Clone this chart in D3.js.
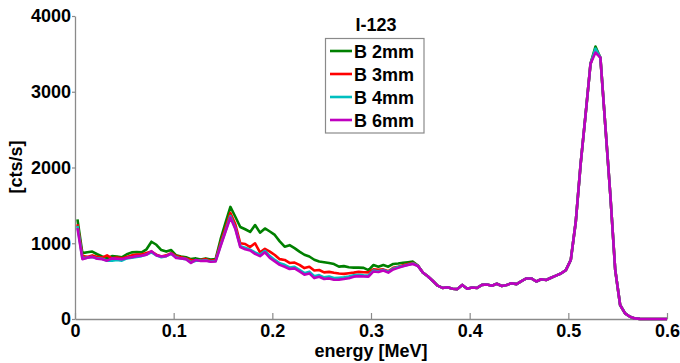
<!DOCTYPE html>
<html><head><meta charset="utf-8">
<script src="https://cdn.jsdelivr.net/npm/d3@7"></script>
<style>
body{margin:0;background:#fff}
svg{display:block}
text{font-family:"Liberation Sans",Arial,sans-serif;font-weight:bold;fill:#000}
</style>
</head><body>
<svg id="chart" width="680" height="363"></svg>
<script>
// ---- data ----
const energy = [
0.0025,0.0075,0.0125,0.0175,0.0225,0.0275,0.0325,0.0375,0.0425,0.0475,
0.0525,0.0575,0.0625,0.0675,0.0725,0.0775,0.0825,0.0875,0.0925,0.0975,
0.1025,0.1075,0.1125,0.1175,0.1225,0.1275,0.1325,0.1375,0.1425,0.1475,
0.1525,0.1575,0.1625,0.1675,0.1725,0.1775,0.1825,0.1875,0.1925,0.1975,
0.2025,0.2075,0.2125,0.2175,0.2225,0.2275,0.2325,0.2375,0.2425,0.2475,
0.2525,0.2575,0.2625,0.2675,0.2725,0.2775,0.2825,0.2875,0.2925,0.2975,
0.3025,0.3075,0.3125,0.3175,0.3225,0.3275,0.3325,0.3375,0.3425,0.3475,
0.3525,0.3575,0.3625,0.3675,0.3725,0.3775,0.3825,0.3875,0.3925,0.3975,
0.4025,0.4075,0.4125,0.4175,0.4225,0.4275,0.4325,0.4375,0.4425,0.4475,
0.4525,0.4575,0.4625,0.4675,0.4725,0.4775,0.4825,0.4875,0.4925,0.4975,
0.5025,0.5075,0.5125,0.5175,0.5225,0.5275,0.5325,0.5375,0.5425,0.5475,
0.5525,0.5575,0.5625,0.5675,0.5725,0.5775,0.5825,0.5875,0.5925,0.5975,0.6];

const b2mm = [
1315,870,880,890,855,825,800,830,825,815,
855,880,885,880,920,1020,980,910,890,910,
840,825,815,790,800,785,800,785,790,1050,
1270,1480,1350,1215,1185,1150,1240,1140,1195,1155,
1110,1025,955,975,935,890,848,825,782,758,
750,740,725,692,698,683,678,678,675,645,
713,691,713,691,727,733,742,750,757,705,
615,565,505,440,410,420,400,395,450,400,
415,410,450,455,440,465,435,450,471,460,
500,535,535,495,525,515,545,572,600,645,
780,1280,2050,2700,3370,3597,3450,2550,1650,650,
185,75,30,8,2,0,0,0,0,0,0];

const b3mm = [
1250,830,820,840,820,810,840,800,810,800,
820,840,850,850,870,890,850,825,840,870,
830,815,800,780,770,780,790,770,780,1000,
1200,1400,1250,1000,990,950,1000,880,925,890,
845,790,780,740,745,715,672,690,640,647,
615,622,610,600,596,605,612,622,618,615,
655,648,655,630,675,690,710,725,740,705,
615,565,505,440,410,420,400,395,450,400,
415,410,450,455,440,465,435,450,471,460,
500,535,535,495,525,515,545,572,600,645,
780,1280,2050,2700,3370,3560,3450,2550,1650,650,
185,75,30,8,2,0,0,0,0,0,0];

const b4mm = [
1230,800,810,820,800,795,770,770,780,770,
800,810,820,830,850,880,840,815,830,860,
815,800,790,750,770,770,775,760,765,970,
1160,1360,1200,960,940,915,880,850,900,830,
780,735,715,680,690,650,605,625,565,580,
550,560,540,545,550,560,578,585,578,575,
640,630,648,622,665,685,700,715,732,703,
615,565,505,440,410,420,400,395,450,400,
415,410,450,455,440,465,435,450,471,460,
500,535,535,495,525,515,545,572,600,645,
780,1280,2050,2700,3370,3570,3450,2550,1650,650,
185,75,30,8,2,0,0,0,0,0,0];

const b6mm = [
1200,790,810,820,795,790,770,800,795,790,
805,815,830,835,850,895,840,825,830,865,
805,800,790,740,780,765,770,755,760,960,
1150,1340,1190,950,920,905,860,830,880,805,
760,715,690,660,668,628,585,602,540,558,
528,536,518,520,528,538,559,566,562,560,
628,620,640,612,655,675,695,712,727,700,
615,565,505,440,410,420,400,395,450,400,
415,410,450,455,440,465,435,450,471,460,
500,535,535,495,525,515,545,572,600,645,
780,1280,2050,2700,3370,3518,3450,2550,1650,650,
185,75,30,8,2,0,0,0,0,0,0];

const seriesNames = ["B 2mm","B 3mm","B 4mm","B 6mm"];
const seriesColors = ["#008000","#ff0000","#00bfbf","#bf00bf"];
const xTicks = [0,0.1,0.2,0.3,0.4,0.5,0.6];
const xTickLabels = ["0","0.1","0.2","0.3","0.4","0.5","0.6"];
const yTicks = [0,1000,2000,3000,4000];
const yTickLabels = ["0","1000","2000","3000","4000"];
const legendTitle = "I-123";
const xLabel = "energy [MeV]";
const yLabel = "[cts/s]";

// ---- drawing ----
const svg = d3.select("#chart");
const x = d3.scaleLinear().domain([0,0.6]).range([75,667]);
const y = d3.scaleLinear().domain([0,4000]).range([319,16]);
const axisColor = "#8a8a8a";

const xAxis = d3.axisBottom(x).tickValues(xTicks)
  .tickFormat((d,i)=>xTickLabels[i]).tickSizeInner(-6).tickSizeOuter(0).tickPadding(5);
const gx = svg.append("g").attr("transform","translate(0,319)").call(xAxis);
gx.select(".domain").attr("stroke",axisColor).attr("stroke-width",1.3);
gx.selectAll(".tick line").attr("stroke",axisColor).attr("stroke-width",1.2);
gx.selectAll(".tick text").attr("font-size",18).attr("font-family","Liberation Sans, Arial, sans-serif").attr("font-weight","bold").attr("fill","#000");

const yAxis = d3.axisLeft(y).tickValues(yTicks)
  .tickFormat((d,i)=>yTickLabels[i]).tickSizeInner(3).tickSizeOuter(0).tickPadding(1);
const gy = svg.append("g").attr("transform","translate(75,0)").call(yAxis);
gy.select(".domain").attr("stroke",axisColor).attr("stroke-width",1.3);
gy.selectAll(".tick line").attr("stroke",axisColor).attr("stroke-width",1.2);
gy.selectAll(".tick text").attr("font-size",18).attr("font-family","Liberation Sans, Arial, sans-serif").attr("font-weight","bold").attr("fill","#000");

const line = d3.line().x((d,i)=>x(energy[i])).y(d=>y(d));
[b2mm,b3mm,b4mm,b6mm].forEach((s,k)=>{
  svg.append("path").datum(s).attr("d",line)
    .attr("fill","none").attr("stroke",seriesColors[k])
    .attr("stroke-width",2.6).attr("stroke-linejoin","round");
});

svg.append("text").attr("x",371).attr("y",357).attr("text-anchor","middle")
  .attr("font-size",18).text(xLabel);
svg.append("text").attr("transform","translate(21.5,167) rotate(-90)")
  .attr("text-anchor","middle").attr("font-size",18).text(yLabel);

// legend
svg.append("text").attr("x",376).attr("y",31).attr("text-anchor","middle")
  .attr("font-size",18).text(legendTitle);
svg.append("rect").attr("x",325.5).attr("y",38.5).attr("width",98.5).attr("height",94.5)
  .attr("fill","#fff").attr("stroke",axisColor).attr("stroke-width",1.2);
seriesNames.forEach((n,k)=>{
  const ly = 51 + k*23;
  svg.append("line").attr("x1",330).attr("x2",352).attr("y1",ly).attr("y2",ly)
    .attr("stroke",seriesColors[k]).attr("stroke-width",2.6);
  svg.append("text").attr("x",354).attr("y",ly+6.5).attr("font-size",18).text(n);
});
</script>
</body></html>
